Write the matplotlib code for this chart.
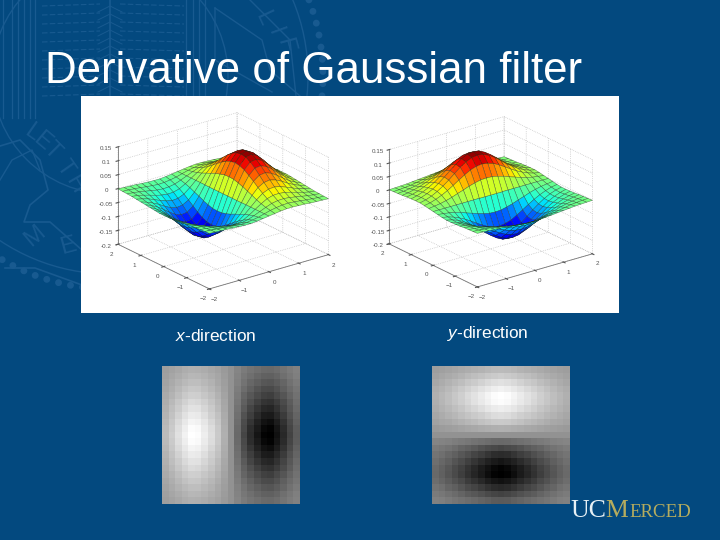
import numpy as np
import matplotlib
matplotlib.use('Agg')
import matplotlib.pyplot as plt
from matplotlib.colors import LinearSegmentedColormap
from matplotlib.patches import Circle, Rectangle

plt.rcParams['font.family'] = ['Liberation Sans', 'DejaVu Sans']
plt.rcParams['mathtext.fontset'] = 'custom'
plt.rcParams['mathtext.rm'] = 'Liberation Sans'
plt.rcParams['mathtext.it'] = 'Liberation Sans:italic'
plt.rcParams['grid.linestyle'] = ':'
plt.rcParams['grid.linewidth'] = 0.5
plt.rcParams['grid.color'] = '#b8b8b8'

# --- Data ---
TITLE = "Derivative of Gaussian filter"
grid_coords = [-2.0, -1.8, -1.6, -1.4, -1.2, -1.0, -0.8, -0.6, -0.4, -0.2, 0.0,
               0.2, 0.4, 0.6, 0.8, 1.0, 1.2, 1.4, 1.6, 1.8, 2.0]
ground_ticks = [-2, -1, 0, 1, 2]
height_ticks = [-0.2, -0.15, -0.1, -0.05, 0, 0.05, 0.1, 0.15]
height_labels = ['-0.2', '-0.15', '-0.1', '-0.05', '0', '0.05', '0.1', '0.15']

# surface height in thousandths, rows are y = -2..2, columns are x = -2..2
surface_x = [
    [-1, -2, -3, -4, -6, -7, -8, -8, -6, -3, 0, 3, 6, 8, 8, 7, 6, 4, 3, 2, 1],
    [-2, -3, -5, -7, -10, -12, -14, -13, -10, -6, 0, 6, 10, 13, 14, 12, 10, 7, 5, 3, 2],
    [-3, -5, -8, -12, -16, -20, -22, -21, -17, -9, 0, 9, 17, 21, 22, 20, 16, 12, 8, 5, 3],
    [-4, -7, -12, -18, -25, -30, -33, -32, -26, -14, 0, 14, 26, 32, 33, 30, 25, 18, 12, 7, 4],
    [-6, -11, -17, -26, -35, -43, -48, -46, -37, -20, 0, 20, 37, 46, 48, 43, 35, 26, 17, 11, 6],
    [-8, -15, -24, -35, -48, -59, -65, -62, -50, -28, 0, 28, 50, 62, 65, 59, 48, 35, 24, 15, 8],
    [-10, -19, -30, -45, -61, -75, -83, -80, -64, -35, 0, 35, 64, 80, 83, 75, 61, 45, 30, 19, 10],
    [-12, -23, -37, -55, -74, -91, -100, -97, -77, -43, 0, 43, 77, 97, 100, 91, 74, 55, 37, 23, 12],
    [-14, -26, -42, -63, -85, -105, -115, -111, -89, -49, 0, 49, 89, 111, 115, 105, 85, 63, 42, 26, 14],
    [-16, -28, -46, -68, -92, -114, -126, -121, -96, -54, 0, 54, 96, 121, 126, 114, 92, 68, 46, 28, 16],
    [-16, -29, -47, -70, -95, -117, -129, -124, -99, -55, 0, 55, 99, 124, 129, 117, 95, 70, 47, 29, 16],
    [-16, -28, -46, -68, -92, -114, -126, -121, -96, -54, 0, 54, 96, 121, 126, 114, 92, 68, 46, 28, 16],
    [-14, -26, -42, -63, -85, -105, -115, -111, -89, -49, 0, 49, 89, 111, 115, 105, 85, 63, 42, 26, 14],
    [-12, -23, -37, -55, -74, -91, -100, -97, -77, -43, 0, 43, 77, 97, 100, 91, 74, 55, 37, 23, 12],
    [-10, -19, -30, -45, -61, -75, -83, -80, -64, -35, 0, 35, 64, 80, 83, 75, 61, 45, 30, 19, 10],
    [-8, -15, -24, -35, -48, -59, -65, -62, -50, -28, 0, 28, 50, 62, 65, 59, 48, 35, 24, 15, 8],
    [-6, -11, -17, -26, -35, -43, -48, -46, -37, -20, 0, 20, 37, 46, 48, 43, 35, 26, 17, 11, 6],
    [-4, -7, -12, -18, -25, -30, -33, -32, -26, -14, 0, 14, 26, 32, 33, 30, 25, 18, 12, 7, 4],
    [-3, -5, -8, -12, -16, -20, -22, -21, -17, -9, 0, 9, 17, 21, 22, 20, 16, 12, 8, 5, 3],
    [-2, -3, -5, -7, -10, -12, -14, -13, -10, -6, 0, 6, 10, 13, 14, 12, 10, 7, 5, 3, 2],
    [-1, -2, -3, -4, -6, -7, -8, -8, -6, -3, 0, 3, 6, 8, 8, 7, 6, 4, 3, 2, 1],
]

# shade of the small images, -100 black, 0 mid grey, 100 white
image_x = [
    [-11, -15, -20, -25, -28, -27, -24, -20, -15, -8, 0, 8, 15, 20, 24, 27, 28, 25, 20, 15, 11],
    [-13, -18, -24, -30, -34, -33, -29, -24, -18, -10, 0, 10, 18, 24, 29, 33, 34, 30, 24, 18, 13],
    [-16, -22, -30, -36, -41, -40, -35, -29, -21, -11, 0, 11, 21, 29, 35, 40, 41, 36, 30, 22, 16],
    [-19, -26, -35, -43, -49, -48, -42, -34, -25, -14, 0, 14, 25, 34, 42, 48, 49, 43, 35, 26, 19],
    [-22, -31, -41, -50, -57, -55, -48, -40, -30, -16, 0, 16, 30, 40, 48, 55, 57, 50, 41, 31, 22],
    [-25, -36, -48, -58, -66, -64, -56, -46, -34, -18, 0, 18, 34, 46, 56, 64, 66, 58, 48, 36, 25],
    [-28, -40, -53, -65, -74, -72, -63, -52, -38, -21, 0, 21, 38, 52, 63, 72, 74, 65, 53, 40, 28],
    [-31, -44, -59, -72, -82, -80, -70, -57, -43, -23, 0, 23, 43, 57, 70, 80, 82, 72, 59, 44, 31],
    [-34, -49, -65, -79, -90, -87, -77, -63, -47, -25, 0, 25, 47, 63, 77, 87, 90, 79, 65, 49, 34],
    [-37, -52, -70, -85, -97, -94, -82, -68, -50, -27, 0, 27, 50, 68, 82, 94, 97, 85, 70, 52, 37],
    [-38, -54, -72, -88, -100, -97, -85, -70, -52, -28, 0, 28, 52, 70, 85, 97, 100, 88, 72, 54, 38],
    [-37, -52, -70, -85, -97, -94, -82, -68, -50, -27, 0, 27, 50, 68, 82, 94, 97, 85, 70, 52, 37],
    [-34, -49, -65, -79, -90, -87, -77, -63, -47, -25, 0, 25, 47, 63, 77, 87, 90, 79, 65, 49, 34],
    [-31, -44, -59, -72, -82, -80, -70, -57, -43, -23, 0, 23, 43, 57, 70, 80, 82, 72, 59, 44, 31],
    [-28, -40, -53, -65, -74, -72, -63, -52, -38, -21, 0, 21, 38, 52, 63, 72, 74, 65, 53, 40, 28],
    [-25, -36, -48, -58, -66, -64, -56, -46, -34, -18, 0, 18, 34, 46, 56, 64, 66, 58, 48, 36, 25],
    [-22, -31, -41, -50, -57, -55, -48, -40, -30, -16, 0, 16, 30, 40, 48, 55, 57, 50, 41, 31, 22],
    [-19, -26, -35, -43, -49, -48, -42, -34, -25, -14, 0, 14, 25, 34, 42, 48, 49, 43, 35, 26, 19],
    [-16, -22, -30, -36, -41, -40, -35, -29, -21, -11, 0, 11, 21, 29, 35, 40, 41, 36, 30, 22, 16],
    [-13, -18, -24, -30, -34, -33, -29, -24, -18, -10, 0, 10, 18, 24, 29, 33, 34, 30, 24, 18, 13],
    [-11, -15, -20, -25, -28, -27, -24, -20, -15, -8, 0, 8, 15, 20, 24, 27, 28, 25, 20, 15, 11],
]

# --- Layout, all in pixels of the 720x540 slide ---
W, H = 720, 540
BG = '#03497f'
WATER = '#185a90'
shade_map = LinearSegmentedColormap.from_list('shade', [(0, 'black'), (0.5, '#929292'), (1, 'white')])


def px_rect(x0, y0, x1, y1):
    return [x0 / W, 1 - y1 / H, (x1 - x0) / W, (y1 - y0) / H]


def draw_watermark(ax):
    # seal in the slide background, only a rough copy
    ax.add_patch(Circle((110, 76), 213, fill=False, ec=WATER, lw=5,
                        linestyle=(0, (0.01, 1.75)), capstyle='round'))
    ax.add_patch(Circle((110, 76), 198, fill=False, ec=WATER, lw=1))
    ax.add_patch(Circle((110, 76), 118, fill=False, ec=WATER, lw=1))
    for x in [3, 12, 18, 24, 30, 35, 186, 193, 199, 205]:
        ax.plot([x, x], [0, 118], color=WATER, lw=0.9)
    for y in range(6, 100, 9):
        ax.plot([42, 100], [y, y - 2], color=WATER, lw=0.8, ls=(0, (5, 2)))
        ax.plot([120, 184], [y - 2, y], color=WATER, lw=0.8, ls=(0, (5, 2)))
    ax.plot([110, 110], [0, 96], color=WATER, lw=1.2)
    for y in range(6, 90, 8):
        ax.plot([98, 110, 122], [y + 6, y, y + 6], color=WATER, lw=0.7)
    ax.plot([215, 262, 270, 300], [8, 40, 70, 96], color=WATER, lw=1)
    ax.plot([215, 215, 272], [8, 60, 92], color=WATER, lw=1)
    ax.plot([250, 290, 296], [0, 40, 96], color=WATER, lw=1)
    ax.plot([0, 20, 40, 48, 30, 24, 50, 82], [146, 140, 160, 190, 205, 222, 222, 250],
            color=WATER, lw=1.2)
    ax.plot([0, 12, 32, 40], [180, 160, 150, 170], color=WATER, lw=1)
    ax.plot([5, 35, 82], [268, 268, 285], color=WATER, lw=1.2)
    letters = [('L', 32, 133, -35), ('E', 42, 141, -40), ('T', 52, 151, -45),
               ('T', 65, 168, -55), ('H', 75, 184, -60),
               ('M', 35, 236, 40), ('E', 68, 246, 15),
               ('L', 263, 18, -65), ('I', 275, 32, -70), ('F', 285, 45, -75)]
    for ch, x, y, rot in letters:
        ax.text(x, y, ch, color=WATER, fontsize=17, rotation=rot, ha='center', va='center')


def draw_surface(fig, rect, z, zoom):
    # rect has to be square, 3d axes shrink to a square and clip the surface to it
    ax = fig.add_axes(px_rect(*rect), projection='3d', proj_type='ortho')
    ax.patch.set_alpha(0)
    xx, yy = np.meshgrid(grid_coords, grid_coords)
    ax.plot_surface(xx, yy, z, rstride=1, cstride=1, cmap='jet', vmin=-0.13, vmax=0.13,
                    edgecolor=(0.1, 0.16, 0.1, 0.6), linewidth=0.35, shade=False, antialiased=True)
    ax.set_xlim(-2, 2)
    ax.set_ylim(-2, 2)
    ax.set_zlim(-0.2, 0.15)
    ax.set_box_aspect((1, 1, 0.7), zoom=zoom)
    ax.view_init(elev=22, azim=-127.5)
    ax.set_xticks(ground_ticks)
    ax.set_yticks(ground_ticks)
    ax.set_zticks(height_ticks)
    ax.set_zticklabels(height_labels)
    ax.tick_params(labelsize=4.5, colors='#555555', pad=-3, length=2, width=0.4)
    for axis in (ax.xaxis, ax.yaxis, ax.zaxis):
        axis.set_pane_color((1, 1, 1, 0))
        axis.pane.set_edgecolor('#d4d4d4')
        axis.line.set_color('#777777')
        axis.line.set_linewidth(0.6)
    return ax


def main():
    surf_x = np.array(surface_x) / 1000.0
    shade_x = np.array(image_x)

    fig = plt.figure(figsize=(7.2, 5.4), dpi=100, facecolor=BG)
    bg = fig.add_axes([0, 0, 1, 1])
    bg.set_xlim(0, W)
    bg.set_ylim(H, 0)
    bg.axis('off')
    draw_watermark(bg)
    bg.add_patch(Rectangle((81, 96), 538, 217, fc='white', ec='none', zorder=5))

    bg.text(45, 83, TITLE, color='white', fontsize=31.6, va='baseline', ha='left', zorder=6)
    bg.text(175, 341, r'$\mathit{x}$-direction', color='white', fontsize=12.4, zorder=6)
    bg.text(447, 338, r'$\mathit{y}$-direction', color='white', fontsize=12.4, zorder=6)

    # logo wordmark
    bg.text(570, 517, 'UC', color='#e6f0f5', fontsize=18.5, family='Liberation Serif', zorder=6)
    bg.text(605, 517, 'M', color='#b5ac5e', fontsize=18.5, family='Liberation Serif', zorder=6)
    bg.text(629, 517, 'ERCED', color='#b5ac5e', fontsize=13.6, family='Liberation Serif', zorder=6)

    draw_surface(fig, (100, 84, 340, 324), surf_x, 0.958)
    draw_surface(fig, (367.5, 85, 607.5, 325), surf_x.T, 0.926)

    # bright side on the left for x, on top for y
    ax_x = fig.add_axes(px_rect(162, 366, 300, 504))
    ax_x.imshow(shade_x, cmap=shade_map, origin='lower', aspect='auto', interpolation='nearest',
                vmin=-100, vmax=100)
    ax_x.invert_xaxis()
    ax_x.axis('off')

    ax_y = fig.add_axes(px_rect(432, 366, 570, 504))
    ax_y.imshow(shade_x.T, cmap=shade_map, origin='lower', aspect='auto', interpolation='nearest',
                vmin=-100, vmax=100)
    ax_y.axis('off')

    fig.savefig('out.png', dpi=100, facecolor=BG)


if __name__ == "__main__":
    main()
